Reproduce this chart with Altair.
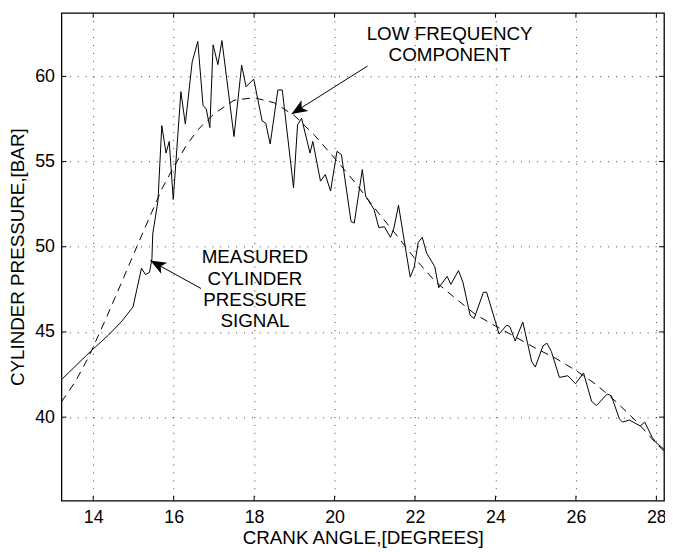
import math
import altair as alt
import pandas as pd

# ---- data ----
meas_x = [13.21, 13.93, 14.38, 14.7, 14.99, 15.20, 15.30, 15.40, 15.46, 15.48, 15.61, 15.705, 15.81,
          15.89, 15.99, 16.18, 16.29, 16.46, 16.6, 16.73, 16.81, 16.9, 16.98, 17.1, 17.2, 17.5,
          17.69, 17.8, 17.99, 18.2, 18.29, 18.4, 18.59, 18.7, 18.98, 19.08, 19.18, 19.39, 19.46,
          19.65, 19.77, 19.9, 20.06, 20.17, 20.41, 20.49, 20.69, 20.77, 20.98, 21.1, 21.24, 21.39,
          21.47, 21.59, 21.88, 21.98, 22.08, 22.18, 22.29, 22.49, 22.59, 22.8, 22.89, 23.08, 23.19,
          23.37, 23.47, 23.7, 23.78, 24.09, 24.28, 24.36, 24.49, 24.68, 24.9, 24.99, 25.18, 25.28,
          25.39, 25.59, 25.8, 25.99, 26.19, 26.39, 26.51, 26.78, 26.88, 27.08, 27.16, 27.33, 27.6,
          27.71, 27.9, 27.99, 28.19]
meas_y = [42.2, 43.85, 44.82, 45.6, 46.47, 48.74, 48.37, 48.5, 49.29, 50.75, 52.7, 57.11, 55.5,
          56.18, 52.78, 59.1, 57.2, 60.84, 62.05, 58.3, 58.09, 57.0, 61.85, 60.69, 62.1, 56.47,
          60.65, 59.39, 59.84, 57.39, 57.25, 56.03, 59.2, 59.2, 53.46, 57.16, 57.54, 55.5, 56.18,
          53.85, 54.24, 53.27, 55.6, 55.41, 51.48, 51.39, 54.53, 52.98, 52.2, 51.13, 51.17, 50.55,
          51.04, 52.43, 48.22, 48.8, 50.26, 50.55, 49.62, 48.84, 47.6, 48.26, 47.79, 48.6, 47.93,
          45.98, 45.79, 47.33, 47.33, 44.88, 45.4, 45.3, 44.47, 45.58, 43.26, 42.94, 44.18, 44.34,
          43.85, 42.33, 42.43, 41.96, 42.59, 40.93, 40.68, 41.36, 41.26, 39.9, 39.71, 39.83, 39.48,
          39.71, 38.8, 38.51, 38.12]

low_x = [13.21, 13.56, 13.89, 14.3, 14.71, 15.12, 15.45, 15.73, 16.0, 16.3, 16.6, 17.0, 17.5,
         18.0, 18.5, 19.0, 19.5, 20.0, 20.5, 21.0, 21.5, 22.0, 22.5, 23.0, 23.5, 24.0, 24.5, 25.0,
         25.5, 26.0, 26.5, 27.0, 27.5, 28.0, 28.19]
low_y = [40.9, 42.1, 43.55, 45.69, 47.93, 50.2, 52.0, 53.5, 54.67, 55.89, 56.86, 57.8, 58.6,
         58.75, 58.45, 57.7, 56.55, 55.2, 53.8, 52.25, 50.8, 49.3, 47.97, 46.98, 46.03, 45.35,
         44.7, 44.04, 43.45, 42.74, 41.92, 40.9, 39.76, 38.45, 38.0]

x_ticks = [14, 16, 18, 20, 22, 24, 26, 28]
y_ticks = [40, 45, 50, 55, 60]

label_x = [22.86, 22.86, 18.02, 18.02, 18.02, 18.02]
label_y = [62.5, 61.27, 49.42, 48.13, 46.86, 45.61]
label_text = ["LOW FREQUENCY", "COMPONENT", "MEASURED", "CYLINDER", "PRESSURE", "SIGNAL"]

arrow_x0 = [20.82, 16.68]
arrow_y0 = [60.61, 47.55]
arrow_x1 = [18.93, 15.42]
arrow_y1 = [57.79, 49.19]

# ---- layout ----
X_DOM = [13.21, 28.19]
Y_DOM = [35.1, 63.73]
W, H = 609, 493
FONT = "Liberation Sans"


def px(x):
    return (x - X_DOM[0]) / (X_DOM[1] - X_DOM[0]) * W


def py(y):
    return H - (y - Y_DOM[0]) / (Y_DOM[1] - Y_DOM[0]) * H


angles = []
for a, b, c, d in zip(arrow_x0, arrow_y0, arrow_x1, arrow_y1):
    dx = px(c) - px(a)
    dy = py(d) - py(b)
    angles.append(math.degrees(math.atan2(dx, -dy)) % 360)

meas = pd.DataFrame({"x": meas_x, "y": meas_y})
low = pd.DataFrame({"x": low_x, "y": low_y})
labels = pd.DataFrame({"x": label_x, "y": label_y, "t": label_text})
arrows = pd.DataFrame({"x0": arrow_x0, "y0": arrow_y0, "x1": arrow_x1, "y1": arrow_y1, "ang": angles})
xt = pd.DataFrame({"t": x_ticks})
yt = pd.DataFrame({"t": y_ticks})

xscale = alt.Scale(domain=X_DOM, nice=False, zero=False)
yscale = alt.Scale(domain=Y_DOM, nice=False, zero=False)

xaxis = alt.Axis(values=x_ticks, title="CRANK ANGLE,[DEGREES]", grid=True, ticks=False,
                 domain=False, labelPadding=8, titlePadding=2)
yaxis = alt.Axis(values=y_ticks, title="CYLINDER PRESSURE,[BAR]", grid=True, ticks=False,
                 domain=False, labelPadding=7, titlePadding=7)

solid = alt.Chart(meas).mark_line(color="black", strokeWidth=1).encode(
    x=alt.X("x:Q", scale=xscale, axis=xaxis),
    y=alt.Y("y:Q", scale=yscale, axis=yaxis),
)
dashed = alt.Chart(low).mark_line(color="black", strokeWidth=1, strokeDash=[8, 6]).encode(
    x=alt.X("x:Q", scale=xscale),
    y=alt.Y("y:Q", scale=yscale),
)
arrow_lines = alt.Chart(arrows).mark_rule(color="black", strokeWidth=1).encode(
    x=alt.X("x0:Q", scale=xscale), y=alt.Y("y0:Q", scale=yscale),
    x2="x1:Q", y2="y1:Q",
)
arrow_heads = alt.Chart(arrows).mark_point(
    shape="M0,0L0.4,1L0,0.75L-0.4,1Z", size=1024, filled=True, color="black", opacity=1, strokeWidth=0
).encode(
    x=alt.X("x1:Q", scale=xscale), y=alt.Y("y1:Q", scale=yscale),
    angle=alt.Angle("ang:Q", scale=None),
)
texts = alt.Chart(labels).mark_text(font=FONT, fontSize=19, color="black", align="center",
                                     baseline="middle").encode(
    x=alt.X("x:Q", scale=xscale), y=alt.Y("y:Q", scale=yscale), text="t:N"
)
tick_bottom = alt.Chart(xt).mark_rule(color="black", strokeWidth=1).encode(
    x=alt.X("t:Q", scale=xscale), y=alt.value(H), y2=alt.value(H - 5))
tick_top = alt.Chart(xt).mark_rule(color="black", strokeWidth=1).encode(
    x=alt.X("t:Q", scale=xscale), y=alt.value(0), y2=alt.value(5))
tick_left = alt.Chart(yt).mark_rule(color="black", strokeWidth=1).encode(
    y=alt.Y("t:Q", scale=yscale), x=alt.value(0), x2=alt.value(5))
tick_right = alt.Chart(yt).mark_rule(color="black", strokeWidth=1).encode(
    y=alt.Y("t:Q", scale=yscale), x=alt.value(W), x2=alt.value(W - 5))

chart = alt.layer(
    solid, dashed, arrow_lines, arrow_heads, texts, tick_bottom, tick_top, tick_left, tick_right
).properties(
    width=W, height=H,
    autosize=alt.AutoSizeParams(type="none"),
    padding={"left": 54, "top": 2, "right": 1, "bottom": 45},
    background="white",
).configure_view(
    stroke="black", strokeWidth=1.3, fill="white"
).configure_axis(
    labelFont=FONT, titleFont=FONT, labelFontSize=18, titleFontSize=19,
    labelColor="black", titleColor="black", titleFontWeight="normal",
    gridColor="black", gridOpacity=0.75, gridDash=[1, 7], gridWidth=1,
)

chart.save("out.html", embed_options={"renderer": "svg", "actions": False})
